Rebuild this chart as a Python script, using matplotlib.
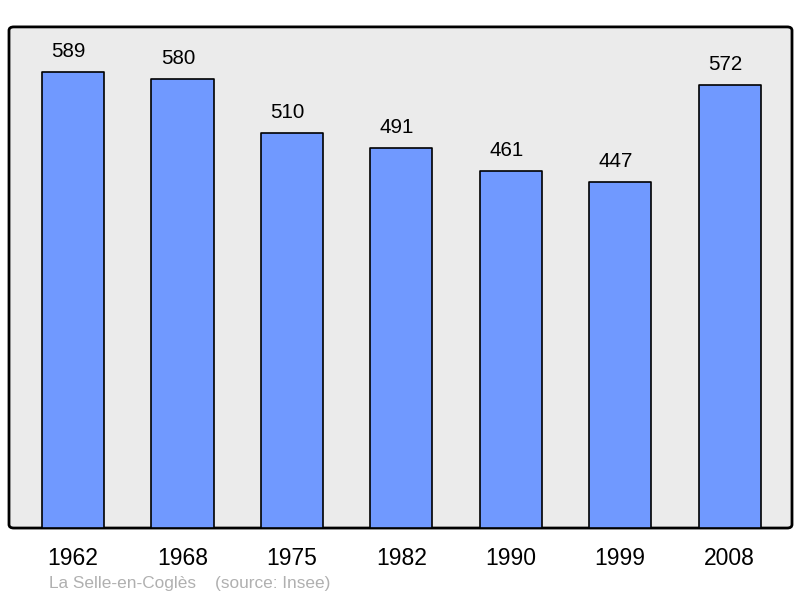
import matplotlib.pyplot as plt
from matplotlib.patches import FancyBboxPatch

years = ["1962", "1968", "1975", "1982", "1990", "1999", "2008"]
population = [589, 580, 510, 491, 461, 447, 572]
caption = "La Selle-en-Coglès    (source: Insee)"

plt.rcParams['font.family'] = ['Liberation Sans', 'DejaVu Sans']

fig = plt.figure(figsize=(8, 5.98), dpi=100)
ax = fig.add_axes([0.01125, 0.117, 0.97875, 0.838])
ax.set_facecolor('none')

# fond gris à coins arrondis
bg = FancyBboxPatch((0.01125, 0.117), 0.97875, 0.838,
                    boxstyle="round,pad=0,rounding_size=0.006",
                    transform=fig.transFigure, facecolor='#ebebeb',
                    edgecolor='black', linewidth=2, zorder=-10)
fig.patches.append(bg)

x = list(range(len(years)))
bars = ax.bar(x, population, width=0.568, color='#7099ff',
              edgecolor='black', linewidth=1.2, zorder=2)
for b in bars:
    b.set_joinstyle('round')

# étiquettes légèrement décalées à gauche comme dans l'original
for xi, v in zip(x, population):
    ax.annotate(str(v), (xi, v), xytext=(-3.2, 10.8), textcoords='offset points',
                ha='center', va='baseline', fontsize=14.8)

ax.set_xlim(-0.585, 6.57)
ax.set_ylim(0, 647)
ax.set_xticks(x)
ax.set_xticklabels(years, fontsize=16.5)
ax.set_yticks([])
ax.tick_params(axis='x', length=0, pad=14)
for s in ax.spines.values():
    s.set_visible(False)

fig.text(49 / 800, 1 - 588 / 598, caption, fontsize=12.4, color='#b0b0b0',
         ha='left', va='baseline')

fig.savefig('out.png', dpi=100)
